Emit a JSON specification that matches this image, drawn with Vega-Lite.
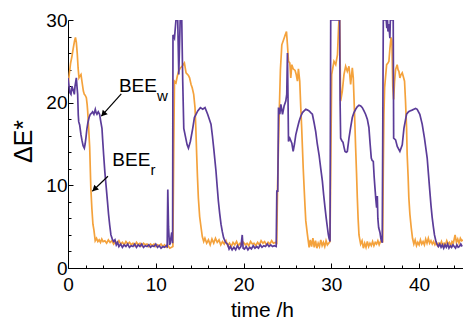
{
  "$schema": "https://vega.github.io/schema/vega-lite/v6.json",
  "width": 395,
  "height": 248,
  "autosize": {"type": "none"},
  "padding": {"left": 68, "top": 20, "right": 0, "bottom": 58},
  "background": "white",
  "config": {"view": {"stroke": null}, "font": "Liberation Sans"},
  "datasets": {
    "series": [
      {"s":"r","t":0,"v":22.0},{"s":"r","t":0.15,"v":23.5},{"s":"r","t":0.3,"v":24.8},{"s":"r","t":0.45,"v":25.6},{"s":"r","t":0.6,"v":26.6},{"s":"r","t":0.75,"v":27.5},{"s":"r","t":0.85,"v":27.9},{"s":"r","t":0.95,"v":27.3},{"s":"r","t":1.05,"v":26.0},{"s":"r","t":1.15,"v":24.2},{"s":"r","t":1.25,"v":23.0},{"s":"r","t":1.35,"v":23.2},{"s":"r","t":1.48,"v":23.4},{"s":"r","t":1.6,"v":22.5},{"s":"r","t":1.75,"v":21.4},{"s":"r","t":1.86,"v":21.0},{"s":"r","t":1.95,"v":20.9},{"s":"r","t":2.09,"v":20.6},{"s":"r","t":2.18,"v":19.8},{"s":"r","t":2.24,"v":19.0},{"s":"r","t":2.35,"v":17.0},{"s":"r","t":2.47,"v":14.6},{"s":"r","t":2.6,"v":9.7},{"s":"r","t":2.72,"v":7.2},{"s":"r","t":2.84,"v":5.3},{"s":"r","t":2.95,"v":4.6},{"s":"r","t":3.1,"v":3.3},{"s":"r","t":3.25,"v":3.6},{"s":"r","t":3.4,"v":3.2},{"s":"r","t":3.55,"v":3.4},{"s":"r","t":3.7,"v":3.1},{"s":"r","t":3.85,"v":3.5},{"s":"r","t":4.0,"v":3.2},{"s":"r","t":4.2,"v":3.3},{"s":"r","t":4.4,"v":3.0},{"s":"r","t":4.6,"v":3.4},{"s":"r","t":4.8,"v":3.1},{"s":"r","t":5.0,"v":3.3},{"s":"r","t":5.2,"v":2.9},{"s":"r","t":5.4,"v":3.2},{"s":"r","t":5.6,"v":3.0},{"s":"r","t":5.8,"v":3.3},{"s":"r","t":6.0,"v":2.9},{"s":"r","t":6.2,"v":3.1},{"s":"r","t":6.4,"v":2.8},{"s":"r","t":6.6,"v":3.2},{"s":"r","t":6.8,"v":2.9},{"s":"r","t":7.0,"v":3.1},{"s":"r","t":7.2,"v":2.8},{"s":"r","t":7.4,"v":3.0},{"s":"r","t":7.6,"v":2.7},{"s":"r","t":7.8,"v":3.1},{"s":"r","t":8.0,"v":2.8},{"s":"r","t":8.2,"v":3.0},{"s":"r","t":8.4,"v":2.7},{"s":"r","t":8.6,"v":3.0},{"s":"r","t":8.8,"v":2.8},{"s":"r","t":9.0,"v":2.9},{"s":"r","t":9.2,"v":2.6},{"s":"r","t":9.4,"v":2.9},{"s":"r","t":9.6,"v":2.7},{"s":"r","t":9.8,"v":2.9},{"s":"r","t":10.0,"v":2.6},{"s":"r","t":10.2,"v":2.8},{"s":"r","t":10.4,"v":2.7},{"s":"r","t":10.6,"v":2.9},{"s":"r","t":10.8,"v":2.6},{"s":"r","t":11.0,"v":2.8},{"s":"r","t":11.2,"v":2.5},{"s":"r","t":11.4,"v":2.7},{"s":"r","t":11.6,"v":2.4},{"s":"r","t":11.8,"v":2.5},{"s":"r","t":11.95,"v":2.6},{"s":"r","t":12.05,"v":15.0},{"s":"r","t":12.13,"v":22.6},{"s":"r","t":12.3,"v":22.4},{"s":"r","t":12.45,"v":23.2},{"s":"r","t":12.6,"v":23.8},{"s":"r","t":12.8,"v":24.2},{"s":"r","t":13.0,"v":24.4},{"s":"r","t":13.26,"v":24.8},{"s":"r","t":13.45,"v":23.6},{"s":"r","t":13.72,"v":23.3},{"s":"r","t":13.85,"v":23.0},{"s":"r","t":14.02,"v":22.2},{"s":"r","t":14.15,"v":21.8},{"s":"r","t":14.32,"v":21.0},{"s":"r","t":14.47,"v":19.4},{"s":"r","t":14.56,"v":17.0},{"s":"r","t":14.66,"v":13.7},{"s":"r","t":14.75,"v":11.0},{"s":"r","t":14.85,"v":8.5},{"s":"r","t":15.0,"v":6.2},{"s":"r","t":15.16,"v":4.9},{"s":"r","t":15.3,"v":3.8},{"s":"r","t":15.46,"v":3.2},{"s":"r","t":15.6,"v":3.6},{"s":"r","t":15.8,"v":3.0},{"s":"r","t":16.0,"v":3.4},{"s":"r","t":16.2,"v":2.8},{"s":"r","t":16.4,"v":3.5},{"s":"r","t":16.6,"v":3.0},{"s":"r","t":16.8,"v":3.6},{"s":"r","t":17.0,"v":3.1},{"s":"r","t":17.2,"v":3.4},{"s":"r","t":17.4,"v":2.8},{"s":"r","t":17.6,"v":3.2},{"s":"r","t":17.8,"v":2.9},{"s":"r","t":18.0,"v":3.3},{"s":"r","t":18.2,"v":2.7},{"s":"r","t":18.4,"v":3.0},{"s":"r","t":18.6,"v":2.6},{"s":"r","t":18.8,"v":3.1},{"s":"r","t":19.0,"v":2.8},{"s":"r","t":19.2,"v":3.2},{"s":"r","t":19.4,"v":2.7},{"s":"r","t":19.6,"v":3.0},{"s":"r","t":19.8,"v":2.8},{"s":"r","t":20.0,"v":3.1},{"s":"r","t":20.2,"v":2.8},{"s":"r","t":20.4,"v":3.0},{"s":"r","t":20.6,"v":2.7},{"s":"r","t":20.8,"v":3.2},{"s":"r","t":21.0,"v":2.9},{"s":"r","t":21.2,"v":3.0},{"s":"r","t":21.4,"v":2.7},{"s":"r","t":21.6,"v":3.1},{"s":"r","t":21.8,"v":2.8},{"s":"r","t":22.0,"v":3.3},{"s":"r","t":22.2,"v":3.0},{"s":"r","t":22.4,"v":3.2},{"s":"r","t":22.6,"v":2.8},{"s":"r","t":22.8,"v":3.1},{"s":"r","t":23.0,"v":2.9},{"s":"r","t":23.2,"v":3.3},{"s":"r","t":23.4,"v":3.0},{"s":"r","t":23.6,"v":3.1},{"s":"r","t":23.78,"v":3.0},{"s":"r","t":23.87,"v":9.7},{"s":"r","t":24.06,"v":18.6},{"s":"r","t":24.2,"v":24.0},{"s":"r","t":24.36,"v":27.0},{"s":"r","t":24.62,"v":27.8},{"s":"r","t":24.75,"v":28.2},{"s":"r","t":24.89,"v":28.6},{"s":"r","t":25.0,"v":27.0},{"s":"r","t":25.12,"v":25.0},{"s":"r","t":25.27,"v":24.8},{"s":"r","t":25.38,"v":23.0},{"s":"r","t":25.5,"v":24.6},{"s":"r","t":25.65,"v":24.1},{"s":"r","t":25.87,"v":23.9},{"s":"r","t":26.0,"v":23.4},{"s":"r","t":26.14,"v":22.6},{"s":"r","t":26.25,"v":24.1},{"s":"r","t":26.4,"v":22.6},{"s":"r","t":26.52,"v":19.4},{"s":"r","t":26.62,"v":17.0},{"s":"r","t":26.71,"v":14.5},{"s":"r","t":26.8,"v":12.0},{"s":"r","t":26.9,"v":9.7},{"s":"r","t":27.0,"v":7.5},{"s":"r","t":27.09,"v":5.7},{"s":"r","t":27.28,"v":4.0},{"s":"r","t":27.47,"v":2.5},{"s":"r","t":27.6,"v":3.4},{"s":"r","t":27.75,"v":2.6},{"s":"r","t":27.9,"v":3.6},{"s":"r","t":28.05,"v":2.5},{"s":"r","t":28.2,"v":3.3},{"s":"r","t":28.35,"v":2.4},{"s":"r","t":28.5,"v":3.0},{"s":"r","t":28.65,"v":2.6},{"s":"r","t":28.8,"v":3.4},{"s":"r","t":28.95,"v":2.7},{"s":"r","t":29.1,"v":3.1},{"s":"r","t":29.25,"v":2.6},{"s":"r","t":29.4,"v":3.3},{"s":"r","t":29.55,"v":2.8},{"s":"r","t":29.7,"v":3.0},{"s":"r","t":29.85,"v":3.2},{"s":"r","t":29.95,"v":14.0},{"s":"r","t":30.04,"v":23.4},{"s":"r","t":30.12,"v":23.9},{"s":"r","t":30.3,"v":25.0},{"s":"r","t":30.5,"v":24.6},{"s":"r","t":30.7,"v":25.8},{"s":"r","t":30.82,"v":29.0},{"s":"r","t":30.87,"v":30},{"s":"r","t":30.95,"v":30},{"s":"r","t":31.06,"v":20.2},{"s":"r","t":31.25,"v":21.4},{"s":"r","t":31.44,"v":23.4},{"s":"r","t":31.63,"v":24.4},{"s":"r","t":31.82,"v":23.8},{"s":"r","t":32.01,"v":24.4},{"s":"r","t":32.2,"v":22.2},{"s":"r","t":32.39,"v":24.2},{"s":"r","t":32.5,"v":23.0},{"s":"r","t":32.58,"v":20.6},{"s":"r","t":32.68,"v":17.5},{"s":"r","t":32.77,"v":14.5},{"s":"r","t":32.87,"v":11.5},{"s":"r","t":32.96,"v":8.5},{"s":"r","t":33.05,"v":6.0},{"s":"r","t":33.15,"v":4.0},{"s":"r","t":33.25,"v":3.4},{"s":"r","t":33.34,"v":2.9},{"s":"r","t":33.5,"v":3.3},{"s":"r","t":33.65,"v":2.4},{"s":"r","t":33.8,"v":3.0},{"s":"r","t":33.95,"v":2.5},{"s":"r","t":34.1,"v":3.2},{"s":"r","t":34.25,"v":2.6},{"s":"r","t":34.4,"v":3.0},{"s":"r","t":34.55,"v":2.7},{"s":"r","t":34.7,"v":3.2},{"s":"r","t":34.85,"v":2.7},{"s":"r","t":35.0,"v":3.1},{"s":"r","t":35.15,"v":2.9},{"s":"r","t":35.3,"v":3.3},{"s":"r","t":35.45,"v":2.8},{"s":"r","t":35.6,"v":3.2},{"s":"r","t":35.75,"v":3.4},{"s":"r","t":35.85,"v":3.1},{"s":"r","t":35.92,"v":12.0},{"s":"r","t":35.99,"v":18.6},{"s":"r","t":36.07,"v":21.8},{"s":"r","t":36.3,"v":24.6},{"s":"r","t":36.45,"v":24.8},{"s":"r","t":36.56,"v":25.0},{"s":"r","t":36.67,"v":26.5},{"s":"r","t":36.8,"v":27.9},{"s":"r","t":36.9,"v":27.5},{"s":"r","t":37.0,"v":22.0},{"s":"r","t":37.1,"v":20.4},{"s":"r","t":37.2,"v":22.5},{"s":"r","t":37.32,"v":24.0},{"s":"r","t":37.5,"v":24.6},{"s":"r","t":37.6,"v":24.0},{"s":"r","t":37.7,"v":23.8},{"s":"r","t":37.81,"v":23.0},{"s":"r","t":37.9,"v":23.3},{"s":"r","t":38.08,"v":23.6},{"s":"r","t":38.19,"v":23.2},{"s":"r","t":38.34,"v":22.6},{"s":"r","t":38.45,"v":20.2},{"s":"r","t":38.57,"v":17.0},{"s":"r","t":38.64,"v":13.7},{"s":"r","t":38.75,"v":11.0},{"s":"r","t":38.83,"v":8.5},{"s":"r","t":38.95,"v":6.5},{"s":"r","t":39.1,"v":4.9},{"s":"r","t":39.25,"v":3.6},{"s":"r","t":39.4,"v":2.9},{"s":"r","t":39.55,"v":3.4},{"s":"r","t":39.7,"v":2.7},{"s":"r","t":39.85,"v":3.1},{"s":"r","t":40.0,"v":2.8},{"s":"r","t":40.15,"v":3.4},{"s":"r","t":40.3,"v":2.9},{"s":"r","t":40.45,"v":3.2},{"s":"r","t":40.6,"v":2.8},{"s":"r","t":40.75,"v":3.5},{"s":"r","t":40.9,"v":3.0},{"s":"r","t":41.05,"v":3.6},{"s":"r","t":41.2,"v":3.0},{"s":"r","t":41.35,"v":3.3},{"s":"r","t":41.5,"v":2.9},{"s":"r","t":41.65,"v":3.2},{"s":"r","t":41.8,"v":2.8},{"s":"r","t":41.95,"v":3.1},{"s":"r","t":42.1,"v":2.7},{"s":"r","t":42.25,"v":3.0},{"s":"r","t":42.4,"v":2.8},{"s":"r","t":42.55,"v":3.2},{"s":"r","t":42.7,"v":2.7},{"s":"r","t":42.85,"v":3.0},{"s":"r","t":43.0,"v":2.8},{"s":"r","t":43.15,"v":3.3},{"s":"r","t":43.3,"v":2.9},{"s":"r","t":43.45,"v":3.1},{"s":"r","t":43.6,"v":2.7},{"s":"r","t":43.75,"v":3.2},{"s":"r","t":43.9,"v":3.0},{"s":"r","t":44.1,"v":4.0},{"s":"r","t":44.25,"v":3.1},{"s":"r","t":44.4,"v":3.5},{"s":"r","t":44.55,"v":3.0},{"s":"r","t":44.7,"v":3.6},{"s":"r","t":44.85,"v":3.3},{"s":"r","t":45.0,"v":3.4},
      {"s":"w","t":0,"v":23.0},{"s":"w","t":0.12,"v":22.0},{"s":"w","t":0.22,"v":21.2},{"s":"w","t":0.34,"v":21.0},{"s":"w","t":0.45,"v":22.0},{"s":"w","t":0.57,"v":21.6},{"s":"w","t":0.65,"v":21.3},{"s":"w","t":0.72,"v":21.0},{"s":"w","t":0.8,"v":22.0},{"s":"w","t":0.95,"v":23.0},{"s":"w","t":1.02,"v":22.0},{"s":"w","t":1.1,"v":21.0},{"s":"w","t":1.17,"v":18.5},{"s":"w","t":1.22,"v":17.7},{"s":"w","t":1.33,"v":17.3},{"s":"w","t":1.48,"v":16.1},{"s":"w","t":1.6,"v":15.4},{"s":"w","t":1.72,"v":14.8},{"s":"w","t":1.86,"v":14.5},{"s":"w","t":1.95,"v":15.0},{"s":"w","t":2.05,"v":15.8},{"s":"w","t":2.15,"v":16.8},{"s":"w","t":2.27,"v":17.6},{"s":"w","t":2.4,"v":18.2},{"s":"w","t":2.54,"v":18.6},{"s":"w","t":2.66,"v":18.7},{"s":"w","t":2.8,"v":18.9},{"s":"w","t":2.95,"v":18.6},{"s":"w","t":3.11,"v":19.2},{"s":"w","t":3.2,"v":18.8},{"s":"w","t":3.3,"v":18.6},{"s":"w","t":3.45,"v":18.9},{"s":"w","t":3.6,"v":18.6},{"s":"w","t":3.72,"v":17.8},{"s":"w","t":3.87,"v":16.9},{"s":"w","t":3.95,"v":15.5},{"s":"w","t":4.06,"v":13.7},{"s":"w","t":4.2,"v":11.6},{"s":"w","t":4.36,"v":9.7},{"s":"w","t":4.5,"v":8.0},{"s":"w","t":4.62,"v":6.5},{"s":"w","t":4.75,"v":5.2},{"s":"w","t":4.89,"v":4.0},{"s":"w","t":5.05,"v":3.5},{"s":"w","t":5.19,"v":3.2},{"s":"w","t":5.35,"v":3.4},{"s":"w","t":5.5,"v":2.8},{"s":"w","t":5.65,"v":3.1},{"s":"w","t":5.8,"v":2.6},{"s":"w","t":6.0,"v":2.9},{"s":"w","t":6.2,"v":2.5},{"s":"w","t":6.4,"v":2.8},{"s":"w","t":6.6,"v":2.6},{"s":"w","t":6.8,"v":2.9},{"s":"w","t":7.0,"v":2.5},{"s":"w","t":7.2,"v":2.7},{"s":"w","t":7.4,"v":2.6},{"s":"w","t":7.6,"v":2.9},{"s":"w","t":7.8,"v":2.5},{"s":"w","t":8.0,"v":2.8},{"s":"w","t":8.2,"v":2.6},{"s":"w","t":8.4,"v":2.9},{"s":"w","t":8.6,"v":2.5},{"s":"w","t":8.8,"v":2.7},{"s":"w","t":9.0,"v":2.6},{"s":"w","t":9.2,"v":2.8},{"s":"w","t":9.4,"v":2.5},{"s":"w","t":9.6,"v":2.7},{"s":"w","t":9.8,"v":2.6},{"s":"w","t":10.0,"v":2.9},{"s":"w","t":10.2,"v":2.5},{"s":"w","t":10.4,"v":2.7},{"s":"w","t":10.6,"v":2.4},{"s":"w","t":10.8,"v":2.6},{"s":"w","t":11.0,"v":2.5},{"s":"w","t":11.2,"v":2.7},{"s":"w","t":11.3,"v":2.6},{"s":"w","t":11.37,"v":9.5},{"s":"w","t":11.45,"v":5.0},{"s":"w","t":11.56,"v":2.8},{"s":"w","t":11.65,"v":3.0},{"s":"w","t":11.72,"v":3.6},{"s":"w","t":11.82,"v":4.3},{"s":"w","t":11.88,"v":3.5},{"s":"w","t":11.92,"v":3.0},{"s":"w","t":11.96,"v":28.2},{"s":"w","t":12.13,"v":27.8},{"s":"w","t":12.3,"v":30},{"s":"w","t":12.5,"v":30},{"s":"w","t":12.62,"v":23.4},{"s":"w","t":12.78,"v":30},{"s":"w","t":12.96,"v":30},{"s":"w","t":13.07,"v":22.6},{"s":"w","t":13.19,"v":16.9},{"s":"w","t":13.34,"v":16.1},{"s":"w","t":13.57,"v":14.9},{"s":"w","t":13.72,"v":14.5},{"s":"w","t":13.94,"v":15.3},{"s":"w","t":14.21,"v":16.9},{"s":"w","t":14.4,"v":18.2},{"s":"w","t":14.78,"v":19.0},{"s":"w","t":15.08,"v":19.4},{"s":"w","t":15.35,"v":19.2},{"s":"w","t":15.61,"v":19.4},{"s":"w","t":15.91,"v":18.6},{"s":"w","t":16.29,"v":17.4},{"s":"w","t":16.45,"v":16.0},{"s":"w","t":16.6,"v":14.5},{"s":"w","t":16.86,"v":11.7},{"s":"w","t":17.0,"v":9.8},{"s":"w","t":17.13,"v":8.1},{"s":"w","t":17.28,"v":6.6},{"s":"w","t":17.43,"v":5.3},{"s":"w","t":17.58,"v":4.4},{"s":"w","t":17.73,"v":3.65},{"s":"w","t":17.95,"v":3.1},{"s":"w","t":18.19,"v":2.85},{"s":"w","t":18.35,"v":2.3},{"s":"w","t":18.5,"v":2.6},{"s":"w","t":18.7,"v":2.2},{"s":"w","t":18.9,"v":2.5},{"s":"w","t":19.1,"v":2.2},{"s":"w","t":19.3,"v":2.7},{"s":"w","t":19.5,"v":2.3},{"s":"w","t":19.7,"v":2.6},{"s":"w","t":19.85,"v":4.0},{"s":"w","t":19.95,"v":2.4},{"s":"w","t":20.1,"v":2.3},{"s":"w","t":20.3,"v":2.6},{"s":"w","t":20.5,"v":2.2},{"s":"w","t":20.7,"v":2.5},{"s":"w","t":20.9,"v":2.3},{"s":"w","t":21.1,"v":2.7},{"s":"w","t":21.3,"v":2.4},{"s":"w","t":21.5,"v":2.6},{"s":"w","t":21.7,"v":2.4},{"s":"w","t":21.9,"v":2.8},{"s":"w","t":22.1,"v":2.5},{"s":"w","t":22.3,"v":2.7},{"s":"w","t":22.5,"v":2.6},{"s":"w","t":22.7,"v":2.9},{"s":"w","t":22.9,"v":2.6},{"s":"w","t":23.1,"v":2.8},{"s":"w","t":23.3,"v":2.6},{"s":"w","t":23.5,"v":2.7},{"s":"w","t":23.72,"v":2.6},{"s":"w","t":23.79,"v":9.3},{"s":"w","t":23.9,"v":9.3},{"s":"w","t":23.98,"v":19.4},{"s":"w","t":24.13,"v":18.6},{"s":"w","t":24.25,"v":19.8},{"s":"w","t":24.44,"v":18.6},{"s":"w","t":24.62,"v":19.6},{"s":"w","t":24.81,"v":20.2},{"s":"w","t":24.92,"v":21.0},{"s":"w","t":25.0,"v":26.0},{"s":"w","t":25.06,"v":21.0},{"s":"w","t":25.12,"v":15.3},{"s":"w","t":25.27,"v":15.7},{"s":"w","t":25.5,"v":15.1},{"s":"w","t":25.65,"v":14.1},{"s":"w","t":25.8,"v":15.0},{"s":"w","t":25.95,"v":16.1},{"s":"w","t":26.15,"v":17.0},{"s":"w","t":26.33,"v":17.75},{"s":"w","t":26.5,"v":18.3},{"s":"w","t":26.71,"v":18.8},{"s":"w","t":26.9,"v":19.0},{"s":"w","t":27.09,"v":19.2},{"s":"w","t":27.3,"v":19.1},{"s":"w","t":27.47,"v":19.0},{"s":"w","t":27.65,"v":18.8},{"s":"w","t":27.84,"v":18.6},{"s":"w","t":28.03,"v":17.6},{"s":"w","t":28.22,"v":16.5},{"s":"w","t":28.4,"v":15.0},{"s":"w","t":28.6,"v":13.7},{"s":"w","t":28.8,"v":12.0},{"s":"w","t":28.98,"v":10.5},{"s":"w","t":29.13,"v":8.8},{"s":"w","t":29.28,"v":7.3},{"s":"w","t":29.42,"v":6.0},{"s":"w","t":29.55,"v":4.9},{"s":"w","t":29.65,"v":4.1},{"s":"w","t":29.74,"v":3.6},{"s":"w","t":29.85,"v":3.2},{"s":"w","t":29.93,"v":30},{"s":"w","t":30.95,"v":30},{"s":"w","t":31.0,"v":20.0},{"s":"w","t":31.06,"v":15.7},{"s":"w","t":31.2,"v":15.4},{"s":"w","t":31.33,"v":15.2},{"s":"w","t":31.45,"v":14.6},{"s":"w","t":31.56,"v":14.1},{"s":"w","t":31.7,"v":14.0},{"s":"w","t":31.82,"v":14.1},{"s":"w","t":32.01,"v":15.7},{"s":"w","t":32.2,"v":17.0},{"s":"w","t":32.39,"v":18.2},{"s":"w","t":32.58,"v":18.8},{"s":"w","t":32.77,"v":19.2},{"s":"w","t":32.95,"v":19.5},{"s":"w","t":33.15,"v":19.7},{"s":"w","t":33.35,"v":19.6},{"s":"w","t":33.53,"v":19.4},{"s":"w","t":33.72,"v":19.0},{"s":"w","t":33.9,"v":18.6},{"s":"w","t":34.1,"v":18.0},{"s":"w","t":34.28,"v":17.0},{"s":"w","t":34.42,"v":15.0},{"s":"w","t":34.55,"v":13.3},{"s":"w","t":34.65,"v":13.0},{"s":"w","t":34.78,"v":12.9},{"s":"w","t":34.88,"v":11.0},{"s":"w","t":34.97,"v":9.7},{"s":"w","t":35.07,"v":8.3},{"s":"w","t":35.16,"v":7.3},{"s":"w","t":35.24,"v":8.7},{"s":"w","t":35.3,"v":6.0},{"s":"w","t":35.39,"v":4.9},{"s":"w","t":35.54,"v":4.3},{"s":"w","t":35.65,"v":3.5},{"s":"w","t":35.8,"v":3.05},{"s":"w","t":35.92,"v":30},{"s":"w","t":36.25,"v":30},{"s":"w","t":36.32,"v":29.0},{"s":"w","t":36.4,"v":30},{"s":"w","t":36.45,"v":28.6},{"s":"w","t":36.55,"v":29.5},{"s":"w","t":36.67,"v":27.8},{"s":"w","t":36.72,"v":30},{"s":"w","t":37.05,"v":30},{"s":"w","t":37.1,"v":15.7},{"s":"w","t":37.32,"v":15.5},{"s":"w","t":37.51,"v":14.7},{"s":"w","t":37.81,"v":14.1},{"s":"w","t":38.08,"v":14.9},{"s":"w","t":38.27,"v":16.9},{"s":"w","t":38.57,"v":18.6},{"s":"w","t":38.8,"v":18.9},{"s":"w","t":38.95,"v":19.0},{"s":"w","t":39.2,"v":19.1},{"s":"w","t":39.4,"v":19.2},{"s":"w","t":39.6,"v":19.3},{"s":"w","t":39.78,"v":19.2},{"s":"w","t":40.08,"v":18.6},{"s":"w","t":40.35,"v":17.4},{"s":"w","t":40.61,"v":15.7},{"s":"w","t":40.92,"v":13.3},{"s":"w","t":41.07,"v":11.3},{"s":"w","t":41.22,"v":9.3},{"s":"w","t":41.35,"v":7.6},{"s":"w","t":41.49,"v":6.1},{"s":"w","t":41.62,"v":5.0},{"s":"w","t":41.75,"v":4.0},{"s":"w","t":41.9,"v":3.3},{"s":"w","t":42.05,"v":2.85},{"s":"w","t":42.2,"v":2.6},{"s":"w","t":42.35,"v":2.9},{"s":"w","t":42.5,"v":2.5},{"s":"w","t":42.65,"v":2.8},{"s":"w","t":42.8,"v":2.4},{"s":"w","t":42.95,"v":2.8},{"s":"w","t":43.1,"v":2.5},{"s":"w","t":43.25,"v":2.9},{"s":"w","t":43.4,"v":2.4},{"s":"w","t":43.55,"v":2.7},{"s":"w","t":43.7,"v":2.5},{"s":"w","t":43.85,"v":2.8},{"s":"w","t":44.0,"v":2.6},{"s":"w","t":44.15,"v":2.4},{"s":"w","t":44.3,"v":2.8},{"s":"w","t":44.45,"v":2.5},{"s":"w","t":44.6,"v":2.6},{"s":"w","t":44.75,"v":2.9},{"s":"w","t":44.9,"v":2.6}
    ],
    "arrows": [
      {"name":"w","t":6.07,"v":21.06,"t2":3.8,"v2":18.36},
      {"name":"r","t":4.55,"v":11.1,"t2":2.77,"v2":9.29}
    ],
    "heads": [
      {"name":"w","t":4.02,"v":18.62},
      {"name":"r","t":3.02,"v":9.54}
    ],
    "main": [
      {"label":"BEE","t":5.8,"v":21.26},
      {"label":"BEE","t":5.05,"v":12.31}
    ],
    "sub": [
      {"label":"w","t":10.15,"v":20.17},
      {"label":"r","t":9.4,"v":11.19}
    ]
  },
  "encoding": {
    "x": {
      "field": "t", "type": "quantitative",
      "scale": {"domain": [0, 45], "nice": false, "zero": false},
      "axis": {
        "title": "time /h",
        "values": [0,2,4,6,8,10,12,14,16,18,20,22,24,26,28,30,32,34,36,38,40,42,44],
        "labelExpr": "datum.value % 10 === 0 ? datum.label : ''",
        "tickSize": {"condition": {"test": "datum.value % 10 === 0", "value": -5}, "value": -3},
        "tickColor": "black", "tickWidth": 1,
        "domainColor": "black", "domainWidth": 1,
        "grid": false,
        "labelFlush": false, "labelOverlap": false,
        "labelFontSize": 19, "labelColor": "black", "labelPadding": 12,
        "titleFontSize": 21, "titleFontWeight": "normal", "titleColor": "black",
        "titleX": 194, "titleY": 48, "titleBaseline": "alphabetic"
      }
    },
    "y": {
      "field": "v", "type": "quantitative",
      "scale": {"domain": [0, 30], "nice": false, "zero": false},
      "axis": {
        "title": "ΔE*",
        "values": [0,2,4,6,8,10,12,14,16,18,20,22,24,26,28,30],
        "labelExpr": "datum.value % 10 === 0 ? datum.label : ''",
        "tickSize": {"condition": {"test": "datum.value % 10 === 0", "value": -5}, "value": -3},
        "tickColor": "black", "tickWidth": 1,
        "domainColor": "black", "domainWidth": 1,
        "grid": false,
        "labelFlush": false, "labelOverlap": false,
        "labelFontSize": 19, "labelColor": "black", "labelPadding": 6,
        "titleFontSize": 25, "titleFontWeight": "normal", "titleColor": "black",
        "titleX": -37, "titleY": 121, "titleBaseline": "alphabetic", "titleAngle": 270
      }
    }
  },
  "layer": [
    {
      "data": {"name": "series"},
      "mark": {"type": "line", "strokeWidth": 1.7, "clip": true, "interpolate": "linear"},
      "encoding": {
        "color": {
          "field": "s", "type": "nominal",
          "scale": {"domain": ["r", "w"], "range": ["#F4A23C", "#5B3C99"]},
          "legend": null
        }
      }
    },
    {
      "data": {"name": "arrows"},
      "mark": {"type": "rule", "color": "black", "strokeWidth": 1.2},
      "encoding": {
        "x2": {"field": "t2"},
        "y2": {"field": "v2"}
      }
    },
    {
      "data": {"name": "heads"},
      "transform": [{"filter": "datum.name === 'w'"}],
      "mark": {"type": "point", "shape": "triangle-up", "filled": true, "color": "black", "size": 45, "angle": 222, "opacity": 1},
      "encoding": {}
    },
    {
      "data": {"name": "heads"},
      "transform": [{"filter": "datum.name === 'r'"}],
      "mark": {"type": "point", "shape": "triangle-up", "filled": true, "color": "black", "size": 45, "angle": 226, "opacity": 1},
      "encoding": {}
    },
    {
      "data": {"name": "main"},
      "mark": {"type": "text", "align": "left", "baseline": "alphabetic", "fontSize": 19, "color": "black"},
      "encoding": {"text": {"field": "label"}}
    },
    {
      "data": {"name": "sub"},
      "mark": {"type": "text", "align": "left", "baseline": "alphabetic", "fontSize": 15, "color": "black"},
      "encoding": {"text": {"field": "label"}}
    }
  ]
}
